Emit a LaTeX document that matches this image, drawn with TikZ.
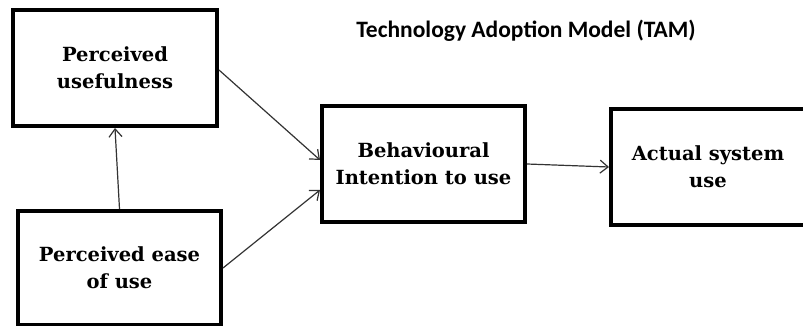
\documentclass[tikz,border=0pt]{standalone}
\usepackage{fontspec}
\setmainfont{DejaVu Serif}
\newfontfamily\titlefont{Carlito}
\usetikzlibrary{arrows.meta}
\begin{document}
\begin{tikzpicture}[x=1pt,y=-1pt,
  box/.style={draw=black, line width=4pt, align=center, inner sep=0pt,
    font=\bfseries\fontsize{19.5}{27}\selectfont},
  conn/.style={draw=black!80, line width=1.2pt, -{Straight Barb[length=8pt,width=13pt,line width=1.2pt]}}]
\useasboundingbox (0,0) rectangle (803,326);
\node[box, minimum width=204pt, minimum height=116pt] (b1) at (115,68) {Perceived\\usefulness};
\node[box, minimum width=203pt, minimum height=114pt] (b2) at (119.5,268) {Perceived ease\\of use};
\node[box, minimum width=203pt, minimum height=116pt] (b3) at (423.5,164) {Behavioural\\Intention to use};
\node[box, minimum width=194pt, minimum height=116pt] (b4) at (708,167) {Actual system\\use};
\node[font=\titlefont\bfseries\fontsize{23.5}{26}\selectfont] (t) at (526,31) {Technology Adoption Model (TAM)};
\draw[conn] (b2.north) -- (b1.south);
\draw[conn] ([yshift=-2pt]b1.east) -- ([yshift=4pt]b3.west);
\draw[conn] (b2.east) -- ([yshift=-26pt]b3.west);
\draw[conn] (b3.east) -- (b4.west);
\end{tikzpicture}
\end{document}
